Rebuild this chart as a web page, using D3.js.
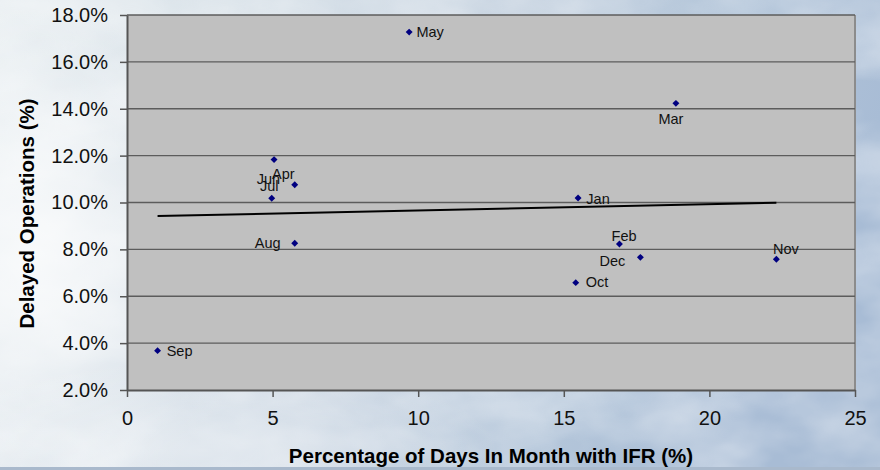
<!DOCTYPE html>
<html>
<head>
<meta charset="utf-8">
<script src="https://cdn.jsdelivr.net/npm/d3@7"></script>
<style>
  html, body { margin: 0; padding: 0; overflow: hidden; background: #dfe6ec; }
  text { font-family: Arial, "Liberation Sans", sans-serif; }
</style>
</head>
<body>
<svg id="chart" width="880" height="470"></svg>
<script>
// Monthly IFR share vs delayed operations
const months   = ["Jan","Feb","Mar","Apr","May","Jun","Jul","Aug","Sep","Oct","Nov","Dec"];
const ifrDays  = [15.49, 16.91, 18.85, 5.76, 9.69, 5.05, 4.97, 5.76, 1.05, 15.41, 22.30, 17.63];
const delayed  = [10.19, 8.23, 14.23, 10.76, 17.27, 11.83, 10.18, 8.26, 3.68, 6.58, 7.58, 7.66];
const xTicks   = [0, 5, 10, 15, 20, 25];
const yTicks   = [2, 4, 6, 8, 10, 12, 14, 16, 18];
const xTitle   = "Percentage of Days In Month with IFR (%)";
const yTitle   = "Delayed Operations (%)";

// hand-placed data label offsets (centre of label relative to marker, px)
const labelOffsets = [[20,6],[4.7,-3.3],[-5,21],[-11.4,-5.7],[21,5.3],[-5.7,24.6],
                      [-2.4,-7.6],[-27,5],[22,5.3],[21.3,4.6],[9.5,-5.3],[-28,8.4]];

const W = 880, H = 470;
const plot = { left: 127, right: 855, top: 15, bottom: 390 };

const svg = d3.select("#chart");
const defs = svg.append("defs");

// sky backdrop
const sky = defs.append("linearGradient").attr("id", "sky")
  .attr("x1", 0).attr("y1", 0).attr("x2", 1).attr("y2", 0.25);
[[0, "#e8eef1"], [0.25, "#d9e2e9"], [0.55, "#c4d1df"], [0.8, "#b4c6da"], [1, "#a8bcd5"]]
  .forEach(([o, c]) => sky.append("stop").attr("offset", o).attr("stop-color", c));

const glow = defs.append("radialGradient").attr("id", "glow")
  .attr("cx", 0.5).attr("cy", 0.5).attr("r", 0.5);
glow.append("stop").attr("offset", 0).attr("stop-color", "#ffffff").attr("stop-opacity", 0.75);
glow.append("stop").attr("offset", 1).attr("stop-color", "#ffffff").attr("stop-opacity", 0);

const clouds = defs.append("filter").attr("id", "clouds")
  .attr("x", 0).attr("y", 0).attr("width", "100%").attr("height", "100%");
clouds.append("feTurbulence").attr("type", "fractalNoise")
  .attr("baseFrequency", "0.008 0.014").attr("numOctaves", 4).attr("seed", 7);
clouds.append("feColorMatrix").attr("type", "matrix")
  .attr("values", "0 0 0 0 1  0 0 0 0 1  0 0 0 0 1  1.7 0 0 0 -0.55");

svg.append("rect").attr("width", W).attr("height", H).attr("fill", "url(#sky)");
svg.append("rect").attr("width", W).attr("height", H)
  .attr("filter", "url(#clouds)").attr("opacity", 0.5);
svg.append("ellipse").attr("cx", 30).attr("cy", 260).attr("rx", 230).attr("ry", 260)
  .attr("fill", "url(#glow)");
svg.append("ellipse").attr("cx", 200).attr("cy", 450).attr("rx", 300).attr("ry", 90)
  .attr("fill", "url(#glow)").attr("opacity", 0.6);
svg.append("rect").attr("x", 0).attr("y", H - 3).attr("width", W).attr("height", 3)
  .attr("fill", "#a9b9cc");

// scales
const x = d3.scaleLinear().domain([0, 25]).range([plot.left, plot.right]);
const y = d3.scaleLinear().domain([2, 18]).range([plot.bottom, plot.top]);

// plot area
svg.append("rect")
  .attr("x", plot.left).attr("y", plot.top)
  .attr("width", plot.right - plot.left).attr("height", plot.bottom - plot.top)
  .attr("fill", "#c0c0c0");
svg.append("line")
  .attr("x1", plot.right).attr("x2", plot.right)
  .attr("y1", plot.top).attr("y2", plot.bottom)
  .attr("stroke", "#8c8c8c").attr("stroke-width", 2);

// gridlines
svg.append("g").selectAll("line").data(yTicks.filter(t => t > 2)).join("line")
  .attr("x1", plot.left).attr("x2", plot.right)
  .attr("y1", d => y(d)).attr("y2", d => y(d))
  .attr("stroke", "#5c5c5c").attr("stroke-width", 1.4);

// axes
const yAxis = svg.append("g").attr("transform", `translate(${plot.left},0)`)
  .call(d3.axisLeft(y).tickValues(yTicks).tickSize(7).tickSizeOuter(0)
    .tickPadding(12).tickFormat(d => d.toFixed(1) + "%"));
const xAxis = svg.append("g").attr("transform", `translate(0,${plot.bottom})`)
  .call(d3.axisBottom(x).tickValues(xTicks).tickSize(7).tickSizeOuter(0)
    .tickPadding(14).tickFormat(d3.format("d")));
[yAxis, xAxis].forEach(g => {
  g.select(".domain").attr("stroke", "#555").attr("stroke-width", 2);
  g.selectAll(".tick line").attr("stroke", "#555").attr("stroke-width", 1.5);
  g.selectAll(".tick text").attr("fill", "#111").style("font-size", "20px")
    .style("font-family", "Arial, 'Liberation Sans', sans-serif");
});

// linear trend line (least squares)
const pts = months.map((m, i) => ({ m, x: ifrDays[i], y: delayed[i], i }));
const mx = d3.mean(pts, d => d.x), my = d3.mean(pts, d => d.y);
const slope = d3.sum(pts, d => (d.x - mx) * (d.y - my)) / d3.sum(pts, d => (d.x - mx) ** 2);
const icpt = my - slope * mx;
const [x0, x1] = d3.extent(ifrDays);
svg.append("path")
  .datum([x0, x1].map(v => [v, icpt + slope * v]))
  .attr("d", d3.line().x(d => x(d[0])).y(d => y(d[1])))
  .attr("fill", "none").attr("stroke", "#000").attr("stroke-width", 2);

// markers
const diamond = d3.symbol().type(d3.symbolSquare).size(24);
svg.append("g").selectAll("path").data(pts).join("path")
  .attr("d", diamond)
  .attr("transform", d => `translate(${x(d.x)},${y(d.y)}) rotate(45)`)
  .attr("fill", "#000080");

// data labels
svg.append("g").selectAll("text").data(pts).join("text")
  .attr("x", d => x(d.x) + labelOffsets[d.i][0])
  .attr("y", d => y(d.y) + labelOffsets[d.i][1])
  .attr("text-anchor", "middle")
  .style("font-size", "14.5px").attr("fill", "#111")
  .text(d => d.m);

// axis titles
svg.append("text")
  .attr("x", (plot.left + plot.right) / 2 - 0).attr("y", 463)
  .attr("text-anchor", "middle").style("font-size", "20.5px").style("font-weight", "bold")
  .attr("fill", "#000").text(xTitle);
svg.append("text")
  .attr("transform", `translate(34,${(plot.top + plot.bottom) / 2 + 11}) rotate(-90)`)
  .attr("text-anchor", "middle").style("font-size", "20.5px").style("font-weight", "bold")
  .attr("fill", "#000").text(yTitle);
</script>
</body>
</html>
